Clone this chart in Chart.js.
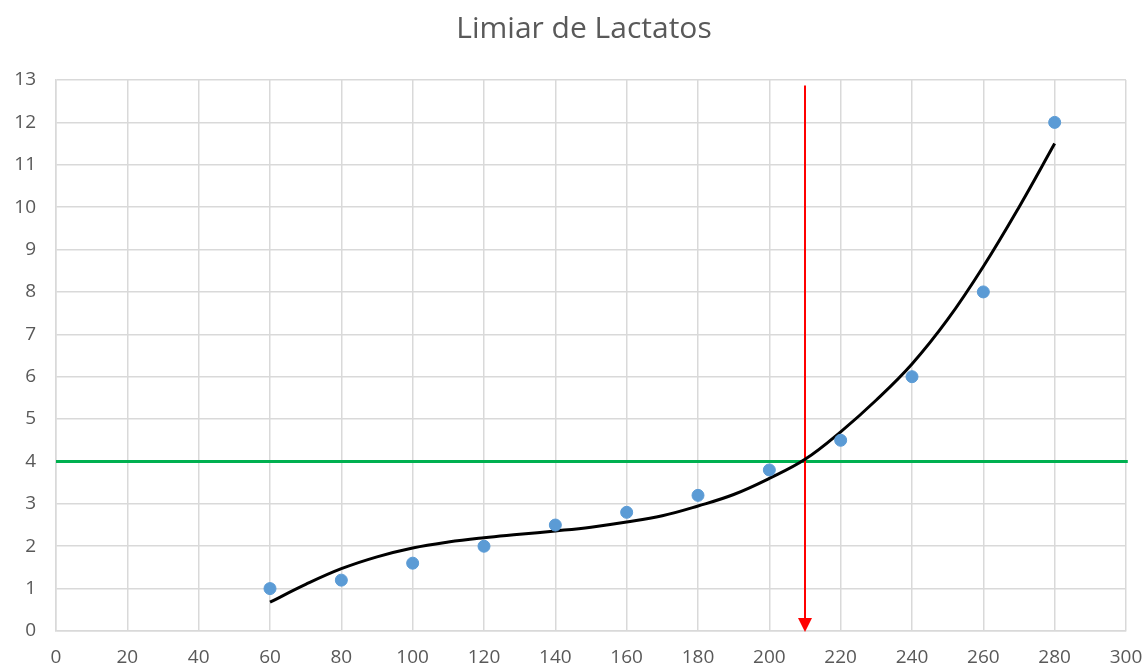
<!DOCTYPE html>
<html lang="pt">
<head>
  <meta charset="UTF-8">
  <title>Limiar de Lactatos</title>
  <script src="https://cdn.jsdelivr.net/npm/chart.js"></script>
  <style>
    body { margin: 0; background: #fff; }
    #wrap { width: 1145px; height: 667px; }
  </style>
</head>
<body>
  <div id="wrap"><canvas id="chart" width="1145" height="667"></canvas></div>

  <script>
    // carga (W) e lactato medido
    const cargas = [60, 80, 100, 120, 140, 160, 180, 200, 220, 240, 260, 280];
    const lactato = [1, 1.2, 1.6, 2, 2.5, 2.8, 3.2, 3.8, 4.5, 6, 8, 12];

    // linha de tendência
    const tendX = [60, 70, 80, 90, 100, 110, 120, 130, 140, 150, 160, 170, 180, 190, 200, 210, 220, 230, 240, 250, 260, 270, 280];
    const tendY = [0.68, 1.1, 1.47, 1.75, 1.96, 2.1, 2.2, 2.28, 2.36, 2.45, 2.57, 2.72, 2.95, 3.22, 3.6, 4.05, 4.7, 5.45, 6.3, 7.35, 8.6, 10.0, 11.5];

    const limiarLactato = 4;
    const limiarX = [0, 300.5];
    const cargaLimiar = 210;
    const setaTopo = 12.87;

    const xTicks = [0, 20, 40, 60, 80, 100, 120, 140, 160, 180, 200, 220, 240, 260, 280, 300];
    const yTicks = [0, 1, 2, 3, 4, 5, 6, 7, 8, 9, 10, 11, 12, 13];

    const FONT = "'Open Sans', 'Liberation Sans', sans-serif";
    const GREY = '#595959';

    const titlePlugin = {
      id: 'titulo',
      afterDraw(chart) {
        const c = chart.ctx;
        c.save();
        c.font = '30px ' + FONT;
        c.fillStyle = GREY;
        c.textAlign = 'center';
        c.textBaseline = 'alphabetic';
        c.fillText('Limiar de Lactatos', 584, 38);
        c.restore();
      }
    };

    const arrowPlugin = {
      id: 'seta',
      afterDatasetsDraw(chart) {
        const c = chart.ctx;
        const x = chart.scales.x.getPixelForValue(cargaLimiar);
        const y = chart.scales.y.getPixelForValue(0);
        c.save();
        c.fillStyle = '#ff0000';
        c.beginPath();
        c.moveTo(x, y + 1);
        c.lineTo(x - 7, y - 13);
        c.lineTo(x + 7, y - 13);
        c.closePath();
        c.fill();
        c.restore();
      }
    };

    new Chart(document.getElementById('chart'), {
      type: 'scatter',
      data: {
        datasets: [
          {
            label: 'Lactato',
            data: cargas.map((x, i) => ({ x, y: lactato[i] })),
            backgroundColor: '#5b9bd5',
            borderColor: '#5b9bd5',
            pointRadius: 6,
            order: 1
          },
          {
            label: 'Tendência',
            type: 'line',
            data: tendX.map((x, i) => ({ x, y: tendY[i] })),
            borderColor: '#000',
            borderWidth: 3,
            pointRadius: 0,
            tension: 0.4,
            order: 2
          },
          {
            label: '4 mmol',
            type: 'line',
            data: limiarX.map(x => ({ x, y: limiarLactato })),
            borderColor: '#00b050',
            borderWidth: 3,
            pointRadius: 0,
            clip: false,
            order: 4
          },
          {
            label: 'Limiar',
            type: 'line',
            data: [{ x: cargaLimiar, y: setaTopo }, { x: cargaLimiar, y: 0.3 }],
            borderColor: '#ff0000',
            borderWidth: 2,
            pointRadius: 0,
            order: 3
          }
        ]
      },
      options: {
        responsive: false,
        animation: false,
        layout: { padding: { top: 80, right: 19, left: 0, bottom: 0 } },
        plugins: {
          legend: { display: false },
          tooltip: { enabled: false }
        },
        scales: {
          x: {
            type: 'linear',
            min: 0,
            max: 300,
            afterBuildTicks: s => { s.ticks = xTicks.map(v => ({ value: v })); },
            afterFit: s => { s.height = 36; s.paddingLeft = 0; s.paddingRight = 0; },
            grid: { color: '#d9d9d9', lineWidth: 1.5, drawTicks: false },
            border: { color: '#d9d9d9', width: 1.5 },
            ticks: { color: GREY, font: { family: FONT, size: 19 }, padding: 15 }
          },
          y: {
            min: 0,
            max: 13,
            afterBuildTicks: s => { s.ticks = yTicks.map(v => ({ value: v })); },
            afterFit: s => { s.width = 56; s.paddingTop = 0; s.paddingBottom = 0; },
            grid: { color: '#d9d9d9', lineWidth: 1.5, drawTicks: false },
            border: { color: '#d9d9d9', width: 1.5 },
            ticks: { color: GREY, font: { family: FONT, size: 19 }, padding: 20 }
          }
        }
      },
      plugins: [titlePlugin, arrowPlugin]
    });
  </script>
</body>
</html>
